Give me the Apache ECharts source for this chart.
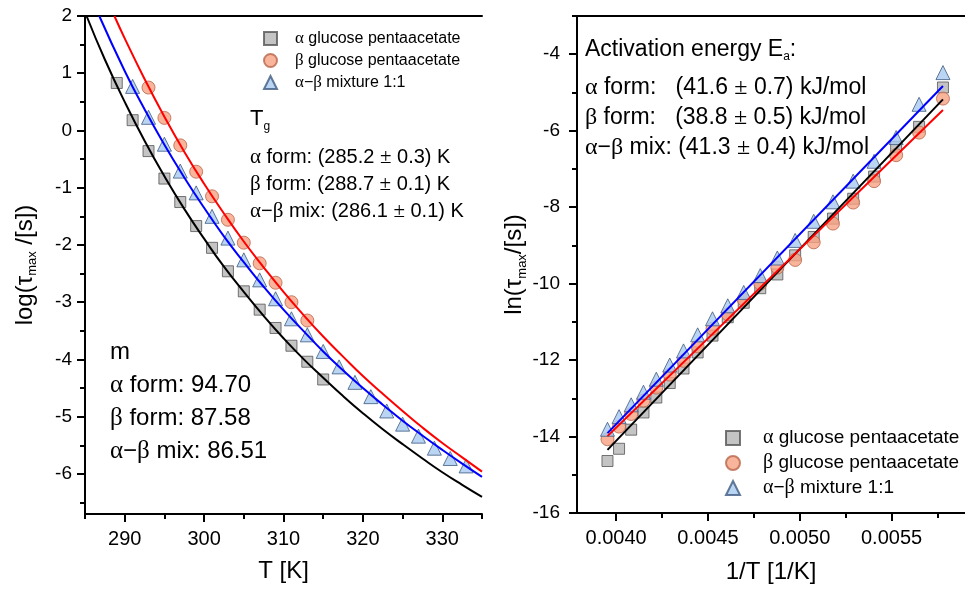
<!DOCTYPE html>
<html>
<head>
<meta charset="utf-8">
<script src="https://cdn.jsdelivr.net/npm/echarts@6.0.0/dist/echarts.min.js"></script>
<style>
  html, body { margin:0; padding:0; background:#fff; }
  #chart { width:965px; height:592px; }
</style>
</head>
<body>
<div id="chart"></div>
<script>
// ---- left panel: log(tau_max) vs T
const tAlpha = [289, 291, 293, 295, 297, 299, 301, 303, 305, 307, 309, 311, 313, 315];
const logAlpha = [0.83, 0.18, -0.36, -0.84, -1.25, -1.67, -2.05, -2.46, -2.81, -3.13, -3.45, -3.76, -4.04, -4.35];
const tBeta = [293, 295, 297, 299, 301, 303, 305, 307, 309, 311, 313];
const logBeta = [0.75, 0.22, -0.26, -0.72, -1.15, -1.56, -1.96, -2.32, -2.66, -3.00, -3.32];
const tMix = [291, 293, 295, 297, 299, 301, 303, 305, 307, 309, 311, 313, 315, 317, 319, 321, 323, 325, 327, 329, 331, 333];
const logMix = [0.77, 0.23, -0.24, -0.71, -1.09, -1.50, -1.88, -2.26, -2.61, -2.94, -3.29, -3.57, -3.86, -4.13, -4.40, -4.65, -4.90, -5.13, -5.34, -5.55, -5.73, -5.86];

// fitted curves
const fitTAlpha = [285.2, 287.5, 290, 292.5, 295, 297.5, 300, 302.5, 305, 307.5, 310, 312.5, 315, 317.5, 320, 322.5, 325, 327.5, 330, 332.5, 335];
const fitAlpha = [2.0, 1.24, 0.50, -0.18, -0.80, -1.37, -1.89, -2.38, -2.82, -3.24, -3.63, -3.99, -4.32, -4.64, -4.94, -5.22, -5.48, -5.73, -5.97, -6.19, -6.40];
const fitTBeta = [288.7, 290, 292.5, 295, 297.5, 300, 302.5, 305, 307.5, 310, 312.5, 315, 317.5, 320, 322.5, 325, 327.5, 330, 332.5, 335];
const fitBeta = [2.0, 1.61, 0.90, 0.24, -0.37, -0.93, -1.45, -1.94, -2.39, -2.82, -3.22, -3.60, -3.95, -4.29, -4.60, -4.90, -5.19, -5.46, -5.71, -5.96];
const fitTMix = [286.8, 290, 292.5, 295, 297.5, 300, 302.5, 305, 307.5, 310, 312.5, 315, 317.5, 320, 322.5, 325, 327.5, 330, 332.5, 335];
const fitMix = [2.0, 1.04, 0.37, -0.25, -0.82, -1.35, -1.85, -2.30, -2.73, -3.13, -3.50, -3.86, -4.19, -4.50, -4.79, -5.07, -5.33, -5.58, -5.82, -6.05];

// ---- right panel: ln(tau_max) vs 1/T
const invT = [0.003953, 0.004016, 0.004082, 0.004149, 0.004219, 0.004292, 0.004367, 0.004444, 0.004525, 0.004608, 0.004695,
              0.004785, 0.004878, 0.004975, 0.005076, 0.005181, 0.005291, 0.005405, 0.005525, 0.005650, 0.005780];
const lnAlpha = [-14.64, -14.32, -13.82, -13.37, -12.98, -12.60, -12.22, -11.80, -11.36, -10.88, -10.50,
                 -10.12, -9.76, -9.26, -8.78, -8.30, -7.78, -7.20, -6.42, -5.90, -4.87];
const lnBeta = [-14.07, -13.74, -13.41, -13.06, -12.72, -12.38, -12.02, -11.64, -11.18, -10.80, -10.42,
                -10.00, -9.58, -9.38, -8.92, -8.43, -7.88, -7.32, -6.64, -6.05, -5.16];
const lnMix = [-13.81, -13.48, -13.17, -12.84, -12.50, -12.13, -11.76, -11.34, -10.92, -10.58, -10.23,
               -9.79, -9.33, -8.87, -8.37, -7.86, -7.32, -6.80, -6.18, -5.31, -4.48];
const fitInvT = [0.003953, 0.005780];
const fitLnAlpha = [-14.35, -5.18];
const fitLnBeta = [-13.99, -5.46];
const fitLnMix = [-13.91, -4.83];

// tick values
const tMajor = [290, 300, 310, 320, 330];
const tMinor = [285, 295, 305, 315, 325, 335];
const logMajor = [-6, -5, -4, -3, -2, -1, 0, 1, 2];
const logMinor = [-6.5, -5.5, -4.5, -3.5, -2.5, -1.5, -0.5, 0.5, 1.5];
const invMajor = [0.0040, 0.0045, 0.0050, 0.0055];
const invMinor = [0.00425, 0.00475, 0.00525, 0.00575];
const lnMajor = [-16, -14, -12, -10, -8, -6, -4];
const lnMinor = [-15, -13, -11, -9, -7, -5, -3];

const NAMES = ["α glucose pentaacetate", "β glucose pentaacetate", "α−β mixture 1:1"];
const FONT = "Liberation Sans, Arial, sans-serif";
const SERIF = "Liberation Serif, Times New Roman, serif";
const BLACK = "#000";

const zip = (xs, ys) => xs.map((x, i) => [x, ys[i]]);
const greek = (s) => s.replace(/([αβ±])/g, "{g|$1}");

function mainAxis(grid, min, max, ticks, extra) {
  return Object.assign({
    type: "value", gridIndex: grid, min: min, max: max, scale: true,
    axisLine: { show: true, onZero: false, lineStyle: { color: BLACK, width: 2 } },
    axisTick: { show: true, customValues: ticks, length: 8, lineStyle: { color: BLACK, width: 2 } },
    axisLabel: { show: true, customValues: ticks, color: BLACK, fontSize: 19, fontFamily: FONT, margin: 12 },
    splitLine: { show: false }
  }, extra || {});
}
function minorAxis(grid, min, max, ticks, pos) {
  return {
    type: "value", gridIndex: grid, min: min, max: max, position: pos,
    axisLine: { show: false, onZero: false },
    axisTick: { show: true, customValues: ticks, length: 5, lineStyle: { color: BLACK, width: 2 } },
    axisLabel: { show: false }, splitLine: { show: false }
  };
}
function frameAxis(grid, min, max, pos) {
  return {
    type: "value", gridIndex: grid, min: min, max: max, position: pos,
    axisLine: { show: true, onZero: false, lineStyle: { color: BLACK, width: 2 } },
    axisTick: { show: false }, axisLabel: { show: false }, splitLine: { show: false }
  };
}

const mk = {
  sq: { symbol: "rect", symbolSize: 11, itemStyle: { color: "#b5b5b5", borderColor: "#555", borderWidth: 1 } },
  ci: { symbol: "circle", symbolSize: 13, itemStyle: { color: "#f8a283", borderColor: "#b8654a", borderWidth: 1 } },
  tr: { symbol: "triangle", symbolSize: 14, itemStyle: { color: "#a8cbf0", borderColor: "#3e5a80", borderWidth: 1 } }
};
function scatter(name, xi, yi, data, m) {
  return Object.assign({ type: "scatter", name: name, xAxisIndex: xi, yAxisIndex: yi, data: data, z: 2 }, m);
}
function fitLine(xi, yi, data, color, smooth) {
  return {
    type: "line", xAxisIndex: xi, yAxisIndex: yi, data: data, smooth: smooth, showSymbol: false,
    lineStyle: { color: color, width: 2 }, z: 3, silent: true
  };
}

const subStyle = { fontSize: 13, fontFamily: FONT, padding: [15, 0, 0, 0] };
const nameStyle = { fontSize: 24, fontFamily: FONT, color: BLACK };
const chart = echarts.init(document.getElementById("chart"));

const option = {
  animation: false,
  backgroundColor: "#fff",
  grid: [
    { left: 85, top: 16, width: 397, height: 498 },
    { left: 577, top: 16, width: 396, height: 497 }
  ],
  xAxis: [
    mainAxis(0, 285, 335, tMajor, { position: "bottom", name: "T [K]", nameLocation: "middle", nameGap: 45,
      nameTextStyle: nameStyle,
      axisLabel: { customValues: tMajor, color: BLACK, fontSize: 20, fontFamily: FONT, margin: 15 } }),
    minorAxis(0, 285, 335, tMinor, "bottom"),
    frameAxis(0, 285, 335, "top"),
    mainAxis(1, 0.003787, 0.0059, invMajor, { position: "bottom", name: "1/T [1/K]", nameLocation: "middle", nameGap: 47,
      nameTextStyle: nameStyle,
      axisLabel: { customValues: invMajor, color: BLACK, fontSize: 20, fontFamily: FONT, margin: 15,
        formatter: (v) => v.toFixed(4) } }),
    minorAxis(1, 0.003787, 0.0059, invMinor, "bottom"),
    frameAxis(1, 0.003787, 0.0059, "top")
  ],
  yAxis: [
    mainAxis(0, -6.7, 2, logMajor, { position: "left", name: "log(τ{s|max} /[s])", nameLocation: "middle", nameGap: 46,
      nameRotate: 90, nameTextStyle: Object.assign({ rich: { s: subStyle } }, nameStyle),
      axisLabel: { customValues: logMajor, color: BLACK, fontSize: 19, fontFamily: FONT, margin: 13 } }),
    minorAxis(0, -6.7, 2, logMinor, "left"),
    mainAxis(1, -16, -3, lnMajor, { position: "left", name: "ln(τ{s|max}/[s])", nameLocation: "middle", nameGap: 48,
      nameRotate: 90, nameTextStyle: Object.assign({ rich: { s: subStyle } }, nameStyle),
      axisLabel: { customValues: lnMajor, color: BLACK, fontSize: 19, fontFamily: FONT, margin: 17 } }),
    minorAxis(1, -16, -3, lnMinor, "left")
  ],
  legend: [
    {
      data: NAMES, orient: "vertical", left: 258, top: 25, itemWidth: 13, itemHeight: 13, itemGap: 5,
      selectedMode: false, formatter: greek,
      textStyle: { fontSize: 16, fontFamily: FONT, color: BLACK, padding: [0, 0, 0, 13],
        rich: { g: { fontSize: 17, fontFamily: SERIF } } }
    },
    {
      data: NAMES, orient: "vertical", left: 720, top: 423, itemWidth: 14, itemHeight: 14, itemGap: 5,
      selectedMode: false, formatter: greek,
      textStyle: { fontSize: 19, fontFamily: FONT, color: BLACK, padding: [0, 0, 0, 18],
        rich: { g: { fontSize: 20, fontFamily: SERIF } } }
    }
  ],
  series: [
    scatter(NAMES[0], 0, 0, zip(tAlpha, logAlpha), mk.sq),
    scatter(NAMES[1], 0, 0, zip(tBeta, logBeta), mk.ci),
    scatter(NAMES[2], 0, 0, zip(tMix, logMix), mk.tr),
    fitLine(0, 0, zip(fitTAlpha, fitAlpha), "#000", true),
    fitLine(0, 0, zip(fitTMix, fitMix), "#0000ff", true),
    fitLine(0, 0, zip(fitTBeta, fitBeta), "#ff0000", true),
    scatter(NAMES[0], 3, 2, zip(invT, lnAlpha), mk.sq),
    scatter(NAMES[1], 3, 2, zip(invT, lnBeta), mk.ci),
    scatter(NAMES[2], 3, 2, zip(invT, lnMix), mk.tr),
    fitLine(3, 2, zip(fitInvT, fitLnAlpha), "#000", false),
    fitLine(3, 2, zip(fitInvT, fitLnBeta), "#ff0000", false),
    fitLine(3, 2, zip(fitInvT, fitLnMix), "#0000ff", false)
  ],
  graphic: [
    { type: "text", left: 250, top: 108, style: { text: "T{s|g}", fontSize: 22, fontFamily: FONT, fill: BLACK,
        rich: { s: { fontSize: 12, fontFamily: FONT, padding: [15, 0, 0, 0] } } } },
    { type: "text", left: 250, top: 144, style: {
        text: greek("α form: (285.2 ± 0.3) K\nβ form: (288.7 ± 0.1) K\nα−β mix: (286.1 ± 0.1) K"),
        fontSize: 20, lineHeight: 27, fontFamily: FONT, fill: BLACK,
        rich: { g: { fontSize: 21, lineHeight: 27, fontFamily: SERIF } } } },
    { type: "text", left: 110, top: 336, style: {
        text: "m\n" + greek("α form: 94.70\nβ form: 87.58\nα−β mix: 86.51"),
        fontSize: 24, lineHeight: 33, fontFamily: FONT, fill: BLACK,
        rich: { g: { fontSize: 25, lineHeight: 33, fontFamily: SERIF } } } },
    { type: "text", left: 585, top: 38, style: { text: "Activation energy E{s|a}:", fontSize: 23, fontFamily: FONT, fill: BLACK,
        rich: { s: { fontSize: 12, fontFamily: FONT, padding: [15, 0, 0, 0] } } } },
    { type: "text", left: 585, top: 73, style: {
        text: greek("α form:   (41.6 ± 0.7) kJ/mol\nβ form:   (38.8 ± 0.5) kJ/mol\nα−β mix: (41.3 ± 0.4) kJ/mol"),
        fontSize: 23, lineHeight: 30, fontFamily: FONT, fill: BLACK,
        rich: { g: { fontSize: 24, lineHeight: 30, fontFamily: SERIF } } } }
  ]
};

chart.setOption(option);
</script>
</body>
</html>
